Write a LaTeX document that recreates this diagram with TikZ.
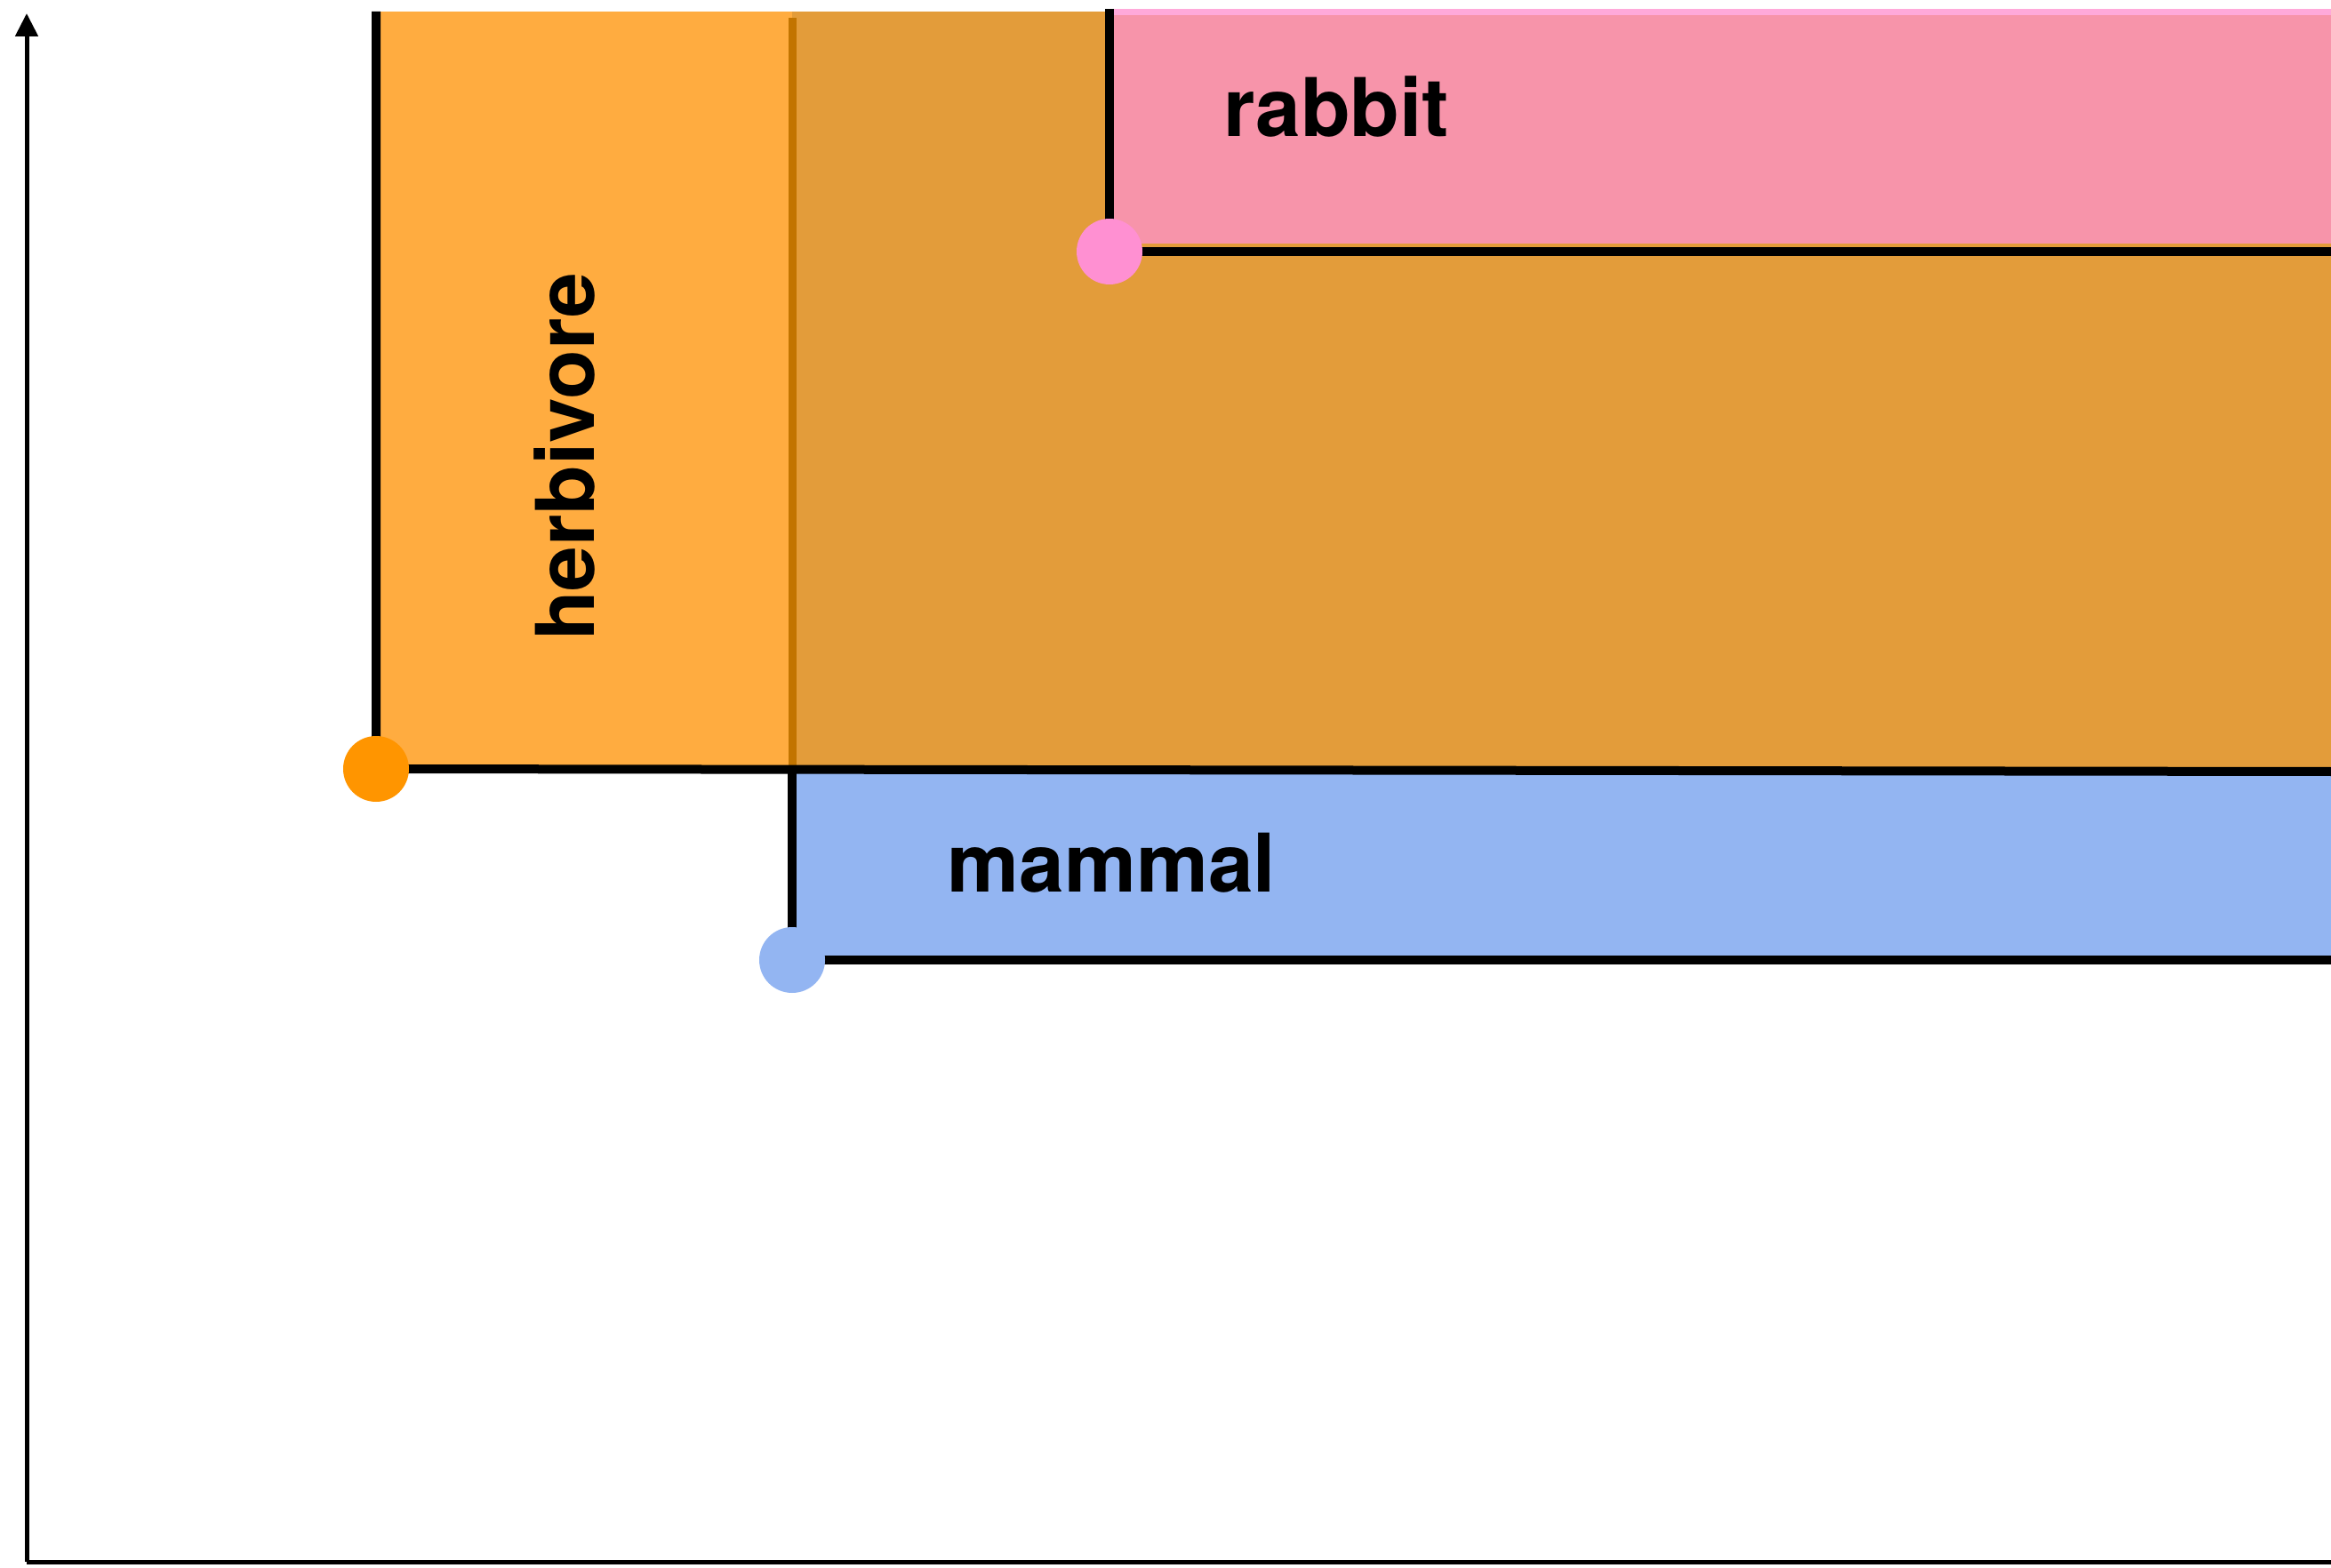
\documentclass[tikz,border=0pt]{standalone}
\usepackage{fontspec}
\setmainfont{TeX Gyre Heros}
\usetikzlibrary{arrows.meta}

\definecolor{herbfill}{HTML}{FFAC40}
\definecolor{herbdark}{HTML}{E39C3A}
\definecolor{herbedge}{HTML}{C27400}
\definecolor{herbdot}{HTML}{FF9500}
\definecolor{mamfill}{HTML}{93B5F2}
\definecolor{rabfill}{HTML}{F794AA}
\definecolor{rabtop}{HTML}{FFA9DA}
\definecolor{rabdot}{HTML}{FF90D2}

\tikzset{
  border/.style={line width=0.1cm, black},
  axis/.style={line width=0.05cm, black},
  corner/.style={circle, minimum size=0.74cm, inner sep=0pt},
  label/.style={font=\fontsize{25.9}{30}\selectfont\bfseries, inner sep=0pt}
}

\begin{document}
\begin{tikzpicture}
  \useasboundingbox (0,0) rectangle (26.22,17.63);

  % corners of the three sets
  \coordinate (origin) at (0.30,0.06);
  \coordinate (ytip) at (0.30,17.48);
  \coordinate (xend) at (26.22,0.06);

  \coordinate (herbtop) at (4.23,17.50);
  \coordinate (herbend) at (26.22,8.95);
  \coordinate (mamtop) at (8.91,8.96);
  \coordinate (mamend) at (26.22,6.83);
  \coordinate (rabtop) at (12.48,17.53);
  \coordinate (rabend) at (26.22,14.80);

  % fills
  \fill[herbfill] (4.23,8.96) rectangle (26.22,17.50);
  \fill[herbdark] (8.91,8.96) rectangle (26.22,17.50);
  \draw[herbedge, line width=0.09cm] (8.91,8.96) -- (8.91,17.43);
  \fill[mamfill] (8.91,6.83) rectangle (26.22,8.96);
  \fill[rabfill] (12.48,14.89) rectangle (26.22,17.53);
  \fill[rabtop] (12.48,17.46) rectangle (26.22,17.53);

  % borders
  \coordinate (herb) at (4.23,8.98);
  \coordinate (mam) at (8.91,6.83);
  \coordinate (rab) at (12.48,14.80);
  \draw[border] (herbtop) -- (herb) -- (herbend);
  \draw[border] (mamtop) -- (mam) -- (mamend);
  \draw[border] (rabtop) -- (rab) -- (rabend);

  % dots
  \node[corner, fill=herbdot] (herbdot) at (herb) {};
  \node[corner, fill=mamfill] (mamdot) at (mam) {};
  \node[corner, fill=rabdot] (rabdot) at (rab) {};

  % names
  \node[label, rotate=90] (herbname) at (6.35,12.49) {herbivore};
  \node[label, anchor=base west] (mamname) at (10.65,7.60) {mammal};
  \node[label, anchor=base west] (rabname) at (13.76,16.09) {rabbit};

  % axes
  \draw[axis, -{Triangle[length=0.26cm,width=0.25cm]}] (origin) -- (ytip);
  \draw[axis] (origin) -- (xend);
\end{tikzpicture}
\end{document}
